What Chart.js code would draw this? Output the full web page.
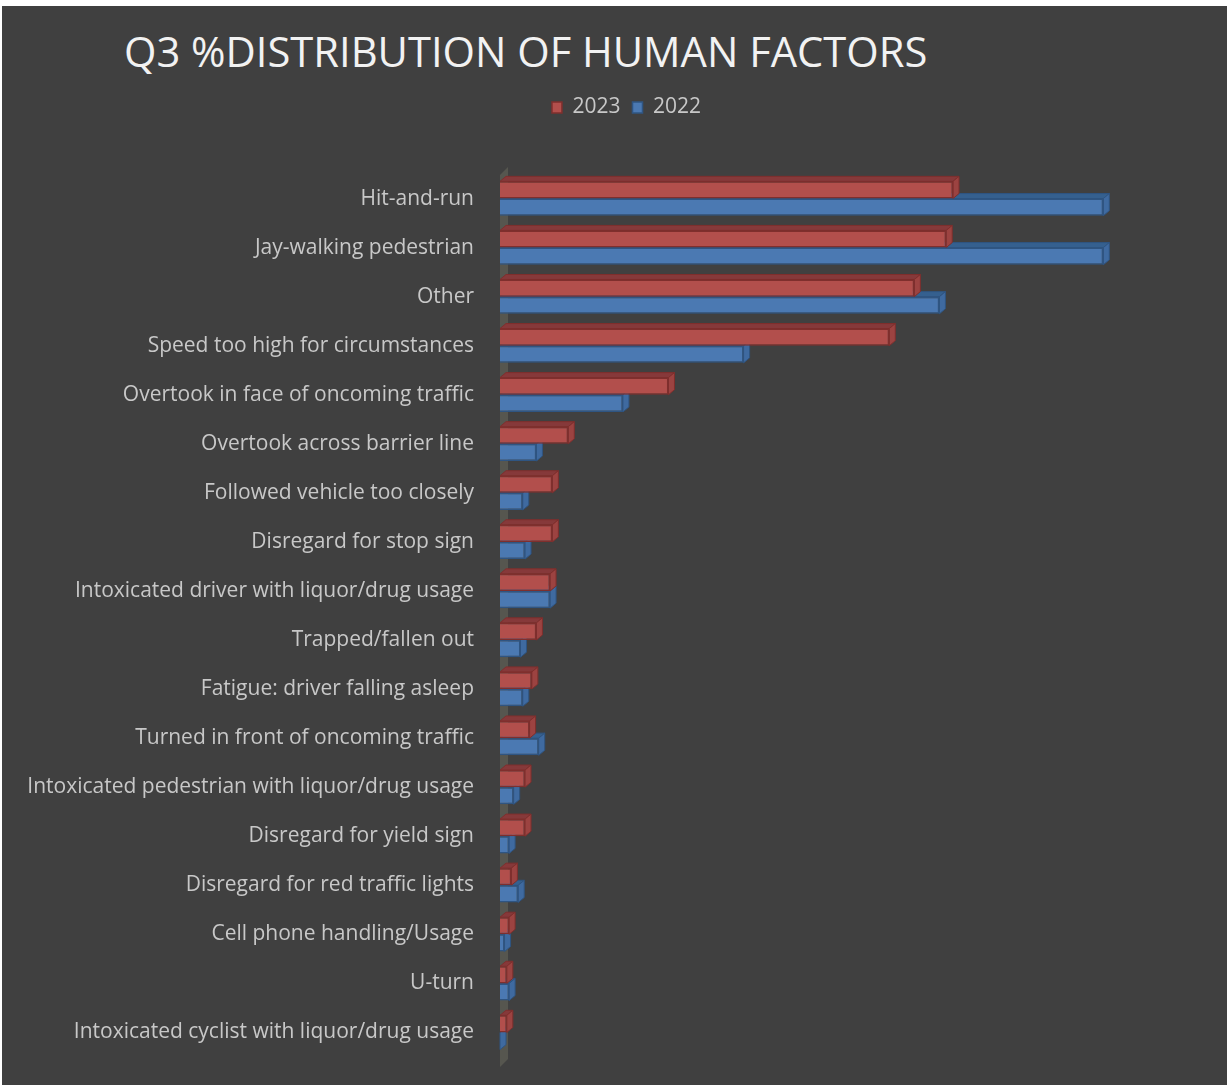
<!DOCTYPE html>
<html>
<head>
<meta charset="utf-8">
<title>Q3 %Distribution of Human Factors</title>
<script src="https://cdn.jsdelivr.net/npm/chart.js@4.4.1/dist/chart.umd.min.js"></script>
<style>
    body {
        margin: 0;
        background: #ffffff;
    }
    .panel {
        position: absolute;
        left: 2px;
        top: 6px;
        width: 1225px;
        height: 1079px;
        background: #404040;
    }
    .panel h1 {
        position: absolute;
        left: 122px;
        top: 16px;
        margin: 0;
        font-family: "Open Sans", sans-serif;
        font-weight: 400;
        font-size: 41.7px;
        color: #f2f2f2;
        white-space: nowrap;
    }
    .panel canvas {
        position: absolute;
        left: 0;
        top: 0;
    }
</style>
</head>
<body>
<div class="panel">
    <h1>Q3 %DISTRIBUTION OF HUMAN FACTORS</h1>
    <canvas id="factoresChart" width="1225" height="1079"></canvas>
</div>
<script>
const factores = [
    'Hit-and-run',
    'Jay-walking pedestrian',
    'Other',
    'Speed too high for circumstances',
    'Overtook in face of oncoming traffic',
    'Overtook across barrier line',
    'Followed vehicle too closely',
    'Disregard for stop sign',
    'Intoxicated driver with liquor/drug usage',
    'Trapped/fallen out',
    'Fatigue: driver falling asleep',
    'Turned in front of oncoming traffic',
    'Intoxicated pedestrian with liquor/drug usage',
    'Disregard for yield sign',
    'Disregard for red traffic lights',
    'Cell phone handling/Usage',
    'U-turn',
    'Intoxicated cyclist with liquor/drug usage'
];

// % por factor, Q3
const pct2023 = [19.9, 19.6, 18.2, 17.1, 7.4, 3.0, 2.3, 2.3, 2.2, 1.6, 1.4, 1.3, 1.1, 1.1, 0.5, 0.4, 0.3, 0.3];
const pct2022 = [26.5, 26.5, 19.3, 10.7, 5.4, 1.6, 1.0, 1.1, 2.2, 0.9, 1.0, 1.7, 0.6, 0.4, 0.8, 0.2, 0.4, 0.0];

const anios = ['2023', '2022'];

// colores de cada serie (frente, borde, arriba, costado)
const caras = [
    { frente: '#b24f4c', borde: '#7f2f2d', arriba: '#86393a', costado: '#9c4341' },
    { frente: '#4b79b2', borde: '#2f5582', arriba: '#35608f', costado: '#3f6aa0' }
];

const fondo = 6;   // profundidad en x
const alto3d = 5;  // profundidad en y

// pared izquierda y caras superiores/laterales, antes del frente de las barras
const barras3d = {
    id: 'barras3d',
    beforeDatasetsDraw(chart) {
        const ctx = chart.ctx;
        const area = chart.chartArea;

        ctx.save();
        ctx.fillStyle = '#56564f';
        ctx.beginPath();
        ctx.moveTo(area.left, area.top + 1);
        ctx.lineTo(area.left + fondo + 2, area.top - alto3d - 2);
        ctx.lineTo(area.left + fondo + 2, area.bottom + 2);
        ctx.lineTo(area.left, area.bottom + alto3d + 5);
        ctx.closePath();
        ctx.fill();

        for (let d = chart.data.datasets.length - 1; d >= 0; d--) {
            const meta = chart.getDatasetMeta(d);
            const c = caras[d];
            meta.data.forEach(el => {
                const p = el.getProps(['x', 'y', 'base', 'height'], true);
                const top = p.y - p.height / 2;
                const bottom = p.y + p.height / 2;

                ctx.strokeStyle = c.borde;
                ctx.lineWidth = 1;

                ctx.fillStyle = c.arriba;
                ctx.beginPath();
                ctx.moveTo(p.base, top);
                ctx.lineTo(p.x, top);
                ctx.lineTo(p.x + fondo, top - alto3d);
                ctx.lineTo(p.base + fondo, top - alto3d);
                ctx.closePath();
                ctx.fill();
                ctx.stroke();

                ctx.fillStyle = c.costado;
                ctx.beginPath();
                ctx.moveTo(p.x, top);
                ctx.lineTo(p.x + fondo, top - alto3d);
                ctx.lineTo(p.x + fondo, bottom - alto3d);
                ctx.lineTo(p.x, bottom);
                ctx.closePath();
                ctx.fill();
                ctx.stroke();
            });
        }
        ctx.restore();
    }
};

// espacio extra bajo la leyenda y leyenda un poco corrida a la derecha
const leyendaEspacio = {
    id: 'leyendaEspacio',
    beforeInit(chart) {
        const fitOriginal = chart.legend.fit;
        chart.legend.fit = function fit() {
            fitOriginal.bind(chart.legend)();
            this.height += 46;
        };
    },
    afterLayout(chart) {
        chart.legend.left += 34;
        chart.legend.right += 34;
        chart.legend.adjustHitBoxes();
    }
};

Chart.defaults.font.family = '"Open Sans", sans-serif';
Chart.defaults.color = '#c8c8c8';

const ctxFactores = document.getElementById('factoresChart').getContext('2d');
new Chart(ctxFactores, {
    type: 'bar',
    data: {
        labels: factores,
        datasets: [
            {
                label: anios[0],
                data: pct2023,
                backgroundColor: caras[0].frente,
                borderColor: caras[0].borde,
                borderWidth: 1.5
            },
            {
                label: anios[1],
                data: pct2022,
                backgroundColor: caras[1].frente,
                borderColor: caras[1].borde,
                borderWidth: 1.5
            }
        ]
    },
    options: {
        indexAxis: 'y',
        responsive: false,
        animation: false,
        categoryPercentage: 0.7,
        barPercentage: 1.0,
        layout: {
            padding: { top: 79, right: 44, bottom: 28, left: 0 }
        },
        plugins: {
            legend: {
                position: 'top',
                labels: {
                    boxWidth: 10,
                    boxHeight: 11,
                    padding: 12,
                    color: '#c8c8c8',
                    font: { size: 21 }
                }
            },
            title: { display: false },
            tooltip: { enabled: true }
        },
        scales: {
            x: {
                display: false,
                min: 0,
                max: 30
            },
            y: {
                afterFit(scale) {
                    scale.width = 498;
                    // el padding de los ticks no debe achicar el alto del area
                    scale.paddingTop = 0;
                    scale.paddingBottom = 0;
                },
                grid: { display: false, drawTicks: false },
                border: { display: false },
                ticks: {
                    padding: 26,
                    color: '#c8c8c8',
                    font: { size: 21 }
                }
            }
        }
    },
    plugins: [leyendaEspacio, barras3d]
});
</script>
</body>
</html>
